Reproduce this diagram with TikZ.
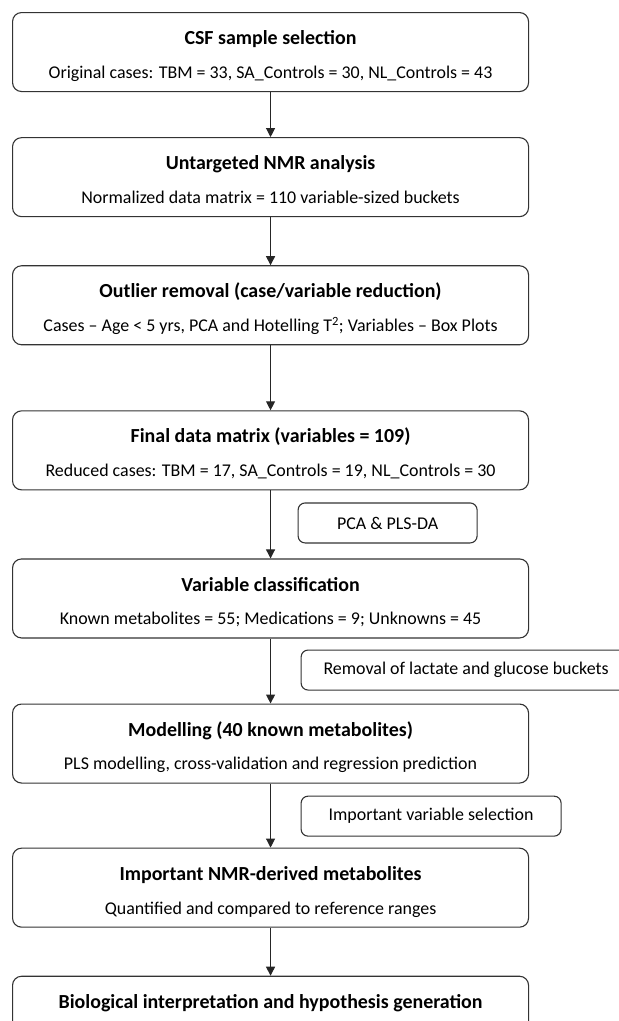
\documentclass[tikz,border=0pt]{standalone}
\usepackage{fontspec}
\setmainfont{Carlito}
\usetikzlibrary{arrows.meta,positioning}

\newcommand{\stagetitle}[1]{{\fontsize{20}{34}\selectfont\bfseries\rule{0pt}{24bp}#1}}
\newcommand{\stagenote}[1]{#1\rule[-5bp]{0pt}{5bp}}

\begin{document}
\begin{tikzpicture}[
    >={Triangle[length=9bp,width=9bp]},
    stage/.style={draw=black!80, line width=1.1bp, rounded corners=9bp, align=center, minimum width=516bp, minimum height=79bp, inner sep=0pt, font=\fontsize{18}{34}\selectfont},
    method/.style={draw=black!80, line width=1.1bp, rounded corners=7bp, align=center, minimum height=40bp, inner sep=0pt, anchor=north west, font=\fontsize{18}{20}\selectfont},
    flow/.style={->, line width=1.1bp, draw=black!85}
]
\useasboundingbox (0,0) rectangle (619bp,-1021bp);

\node[stage, anchor=north west] (csf) at (12bp,-12bp) {\stagetitle{CSF sample selection}\\\stagenote{Original cases: TBM = 33, SA\_Controls = 30, NL\_Controls = 43}};
\node[stage, below=45bp of csf] (nmr) {\stagetitle{Untargeted NMR analysis}\\\stagenote{Normalized data matrix = 110 variable-sized buckets}};
\node[stage, below=48bp of nmr] (outlier) {\stagetitle{Outlier removal (case/variable reduction)}\\\stagenote{Cases – Age < 5 yrs, PCA and Hotelling T\textsuperscript{2}; Variables – Box Plots}};
\node[stage, below=65bp of outlier] (final) {\stagetitle{Final data matrix (variables = 109)}\\\stagenote{Reduced cases: TBM = 17, SA\_Controls = 19, NL\_Controls = 30}};
\node[stage, below=68bp of final] (classes) {\stagetitle{Variable classification}\\\stagenote{Known metabolites = 55; Medications = 9; Unknowns = 45}};
\node[stage, below=65bp of classes] (model) {\stagetitle{Modelling (40 known metabolites)}\\\stagenote{PLS modelling, cross-validation and regression prediction}};
\node[stage, below=64bp of model] (important) {\stagetitle{Important NMR-derived metabolites}\\\stagenote{Quantified and compared to reference ranges}};
\node[stage, below=48bp of important] (bio) {\stagetitle{Biological interpretation and hypothesis generation}\\\stagenote{\phantom{X}}};

% methods beside the arrows
\node[method, minimum width=179bp] (pca) at ([xshift=27bp,yshift=-12bp]final.south) {PCA \& PLS-DA};
\node[method, minimum width=330bp] (lacglc) at ([xshift=30bp,yshift=-11bp]classes.south) {Removal of lactate and glucose buckets};
\node[method, minimum width=260bp] (vip) at ([xshift=30bp,yshift=-12bp]model.south) {Important variable selection};

\draw[flow] (csf) -- (nmr);
\draw[flow] (nmr) -- (outlier);
\draw[flow] (outlier) -- (final);
\draw[flow] (final) -- (classes);
\draw[flow] (classes) -- (model);
\draw[flow] (model) -- (important);
\draw[flow] (important) -- (bio);
\end{tikzpicture}
\end{document}
